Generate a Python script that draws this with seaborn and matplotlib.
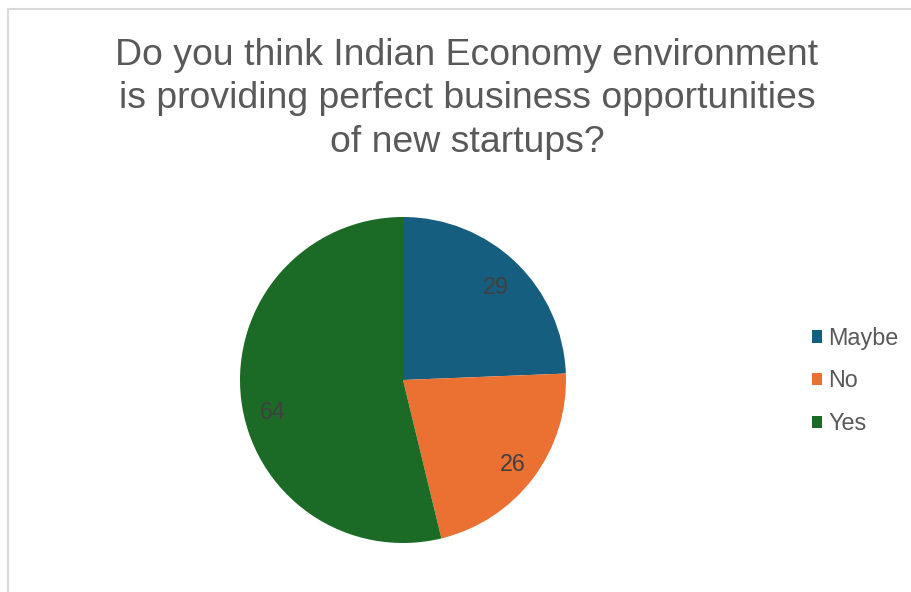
import matplotlib
matplotlib.use("Agg")
import matplotlib.pyplot as plt
from matplotlib.lines import Line2D
from matplotlib.transforms import offset_copy
import seaborn as sns

# Survey answers
categories = ["Maybe", "No", "Yes"]
counts = [29, 26, 64]
colors = ["#165E80", "#EA7132", "#1B6B26"]
title = ("Do you think Indian Economy environment\n"
         "is providing perfect business opportunities\n"
         "of new startups?")

sns.set_theme(style="white")
plt.rcParams["font.family"] = ["Liberation Sans", "DejaVu Sans"]

W, H, DPI = 912, 592, 100
fig = plt.figure(figsize=(W / DPI, H / DPI), dpi=DPI)
fig.patch.set_facecolor("white")

# Pie placed by pixel geometry: centre (403, 380), radius 163
cx, cy, r = 403, 380, 163
ax = fig.add_axes([(cx - r) / W, (H - cy - r) / H, 2 * r / W, 2 * r / H])
palette = sns.color_palette(colors)
wedges, texts, autotexts = ax.pie(
    counts,
    colors=palette,
    startangle=90,
    counterclock=False,
    autopct=lambda p: f"{round(p * sum(counts) / 100):d}",
    pctdistance=0.82,
    textprops=dict(fontsize=16.8, color="#404040"),
    wedgeprops=dict(linewidth=0),
)
# Nudge data labels (points) the way the best-fit placement puts them
label_nudge = [(0, -3), (2, -3), (2, -12)]
for t, (dx, dy) in zip(autotexts, label_nudge):
    t.set_transform(offset_copy(t.get_transform(), fig=fig, x=dx, y=dy, units="points"))
ax.set_xlim(-1, 1)
ax.set_ylim(-1, 1)
ax.set_aspect("equal")
ax.axis("off")

# Title
fig.text(467 / W, 1 - 99 / H, title, ha="center", va="center",
         fontsize=26.9, color="#595959", linespacing=1.31)

# Legend
fig.legend(wedges, categories, loc="center left",
           bbox_to_anchor=(800 / W, 1 - 381 / H),
           frameon=False, fontsize=16.8, labelcolor="#595959",
           handlelength=0.45, handleheight=0.45, handletextpad=0.25,
           labelspacing=0.85, borderpad=0)

# Chart area border (light gray, runs off the right and bottom edges)
fig.add_artist(Line2D([8.5 / W, 8.5 / W, 1.0], [0.0, 1 - 8.5 / H, 1 - 8.5 / H],
                      transform=fig.transFigure, color="#D9D9D9", lw=1.5))

fig.savefig("out.png", dpi=DPI, facecolor="white")
